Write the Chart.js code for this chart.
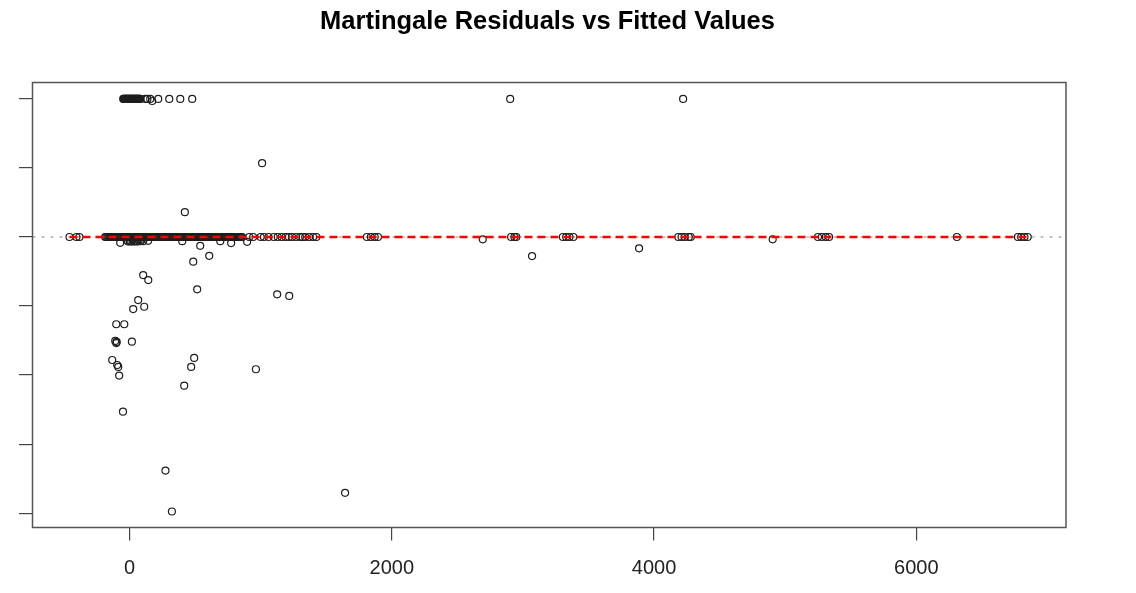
<!DOCTYPE html>
<html>
<head>
<meta charset="utf-8">
<title>Martingale Residuals vs Fitted Values</title>
<script src="https://cdn.jsdelivr.net/npm/chart.js@4/dist/chart.umd.min.js"></script>
<style>
  html, body { margin: 0; padding: 0; background: #ffffff; }
  #wrap { width: 1136px; height: 593px; position: relative; }
</style>
</head>
<body>
<div id="wrap"><canvas id="c" width="1136" height="593"></canvas></div>
<script>
// Fitted values whose martingale residual is exactly 0
const fittedAtZero = [
  -458, -405, -382,
  -186, -177, -168, -160, -151, -142, -133, -124, -116, -107, -98, -89, -80, -72, -63, -54,
  -45, -36, -28, -19, -10, -1, 8, 16, 25, 34, 43, 52, 60, 69, 78, 87, 96, 104, 113, 122,
  131, 140, 148, 157, 166, 175, 184, 192, 201, 210, 219, 228, 236, 245, 254, 263, 272, 280,
  289, 298, 307, 316, 324, 333, 342, 351, 360, 368, 377, 386, 395, 404, 412, 421, 430, 439,
  448, 456, 465, 474, 483, 492, 500, 509, 518, 527, 536, 544, 553, 562, 571, 580, 588, 597,
  606, 615, 624, 632, 641, 650, 659, 668, 676, 685, 694, 703, 712, 720, 729, 738, 747, 756,
  764, 773, 782, 791, 800, 808, 817, 826, 835, 844, 852, 859,
  913, 943, 1000, 1025, 1060, 1100, 1130, 1160, 1190, 1215, 1240, 1270, 1300, 1320,
  1340, 1370, 1400, 1425, 1810, 1840, 1870, 1895,
  2910, 2935, 2950, 3305, 3330, 3355, 3385, 4185, 4210, 4235, 4265, 4280,
  5250, 5280, 5310, 5335, 6310, 6775, 6800, 6825, 6850
];

// Fitted values whose martingale residual is 1 (the maximum)
const fittedAtOne = [
  -48, -44, -39, -35, -31, -26, -22, -18, -13, -9, -5, 0, 4, 8, 13, 17, 21, 26, 30, 34,
  39, 43, 47, 52, 56, 60, 65, 69, 73, 78, 82,
  120, 136, 158, 219, 303, 387, 478, 2903, 4222
];

// Remaining observations: fitted value and residual
const fittedOther = [
  173, 1011, 422,
  -71, -10, 13, 36, 59, 82, 104, 142, 402, 539, 692, 775, 897,
  -20, 2, 24, 47, 70, 93,
  486, 608, 104, 143, 516, 1126, 1218, 66, 28, 112, -101, -40,
  -109, -101, -98, 18, -132, -94, -86, -79, -50,
  493, 470, 417, 964, 274, 323, 1644,
  2694, 3070, 3886, 4905
];
const residOther = [
  0.985, 0.535, 0.180,
  -0.042, -0.033, -0.033, -0.033, -0.033, -0.030, -0.030, -0.028, -0.030, -0.064, -0.030, -0.044, -0.035,
  -0.025, -0.028, -0.022, -0.026, -0.024, -0.020,
  -0.179, -0.136, -0.276, -0.312, -0.379, -0.415, -0.427, -0.457, -0.522, -0.505, -0.632, -0.632,
  -0.753, -0.768, -0.760, -0.758, -0.891, -0.927, -0.941, -1.004, -1.265,
  -0.876, -0.941, -1.077, -0.958, -1.692, -1.988, -1.853,
  -0.017, -0.138, -0.082, -0.017
];

// Smoothed trend through the residuals
const smoothX = [-458, 6850];
const smoothY = [0, 0];

// Axis ranges and tick positions
const X_MIN = -740, X_MAX = 7142;
const Y_MIN = -2.104, Y_MAX = 1.119;
const xTickValues = [0, 2000, 4000, 6000];
const yTickValues = [-2, -1.5, -1, -0.5, 0, 0.5, 1];

const points = [];
fittedAtZero.forEach(x => points.push({ x: x, y: 0 }));
fittedAtOne.forEach(x => points.push({ x: x, y: 1 }));
fittedOther.forEach((x, i) => points.push({ x: x, y: residOther[i] }));

const smoothLine = smoothX.map((x, i) => ({ x: x, y: smoothY[i] }));
const refLine = [{ x: X_MIN, y: 0 }, { x: X_MAX, y: 0 }];

// Frame around the plotting region
const frame = {
  id: 'frame',
  afterDraw(chart) {
    const a = chart.chartArea, ctx = chart.ctx;
    ctx.save();
    ctx.strokeStyle = '#555555';
    ctx.lineWidth = 1.5;
    ctx.strokeRect(a.left, a.top, a.right - a.left, a.bottom - a.top);
    ctx.restore();
  }
};

const FONT = '"Liberation Sans", Arial, sans-serif';

new Chart(document.getElementById('c'), {
  type: 'scatter',
  data: {
    datasets: [
      {
        type: 'line',
        data: refLine,
        borderColor: '#c4c4c4',
        borderWidth: 2,
        borderDash: [3, 6],
        pointRadius: 0,
        fill: false,
        order: 3
      },
      {
        data: points,
        pointStyle: 'circle',
        pointRadius: 3.5,
        pointHoverRadius: 3.5,
        borderColor: '#1e1e1e',
        borderWidth: 1.2,
        backgroundColor: 'rgba(0,0,0,0)',
        order: 2
      },
      {
        type: 'line',
        data: smoothLine,
        borderColor: '#ff0000',
        borderWidth: 2.5,
        borderDash: [8, 5],
        pointRadius: 0,
        fill: false,
        order: 1
      }
    ]
  },
  options: {
    responsive: false,
    animation: false,
    layout: { padding: { left: 29, right: 70, top: 0, bottom: 0 } },
    plugins: {
      legend: { display: false },
      tooltip: { enabled: false },
      title: {
        display: true,
        text: 'Martingale Residuals vs Fitted Values',
        color: '#000000',
        font: { family: FONT, size: 25.5, weight: 'bold' },
        padding: { top: 6.2, bottom: 45.7 }
      }
    },
    scales: {
      x: {
        type: 'linear',
        min: X_MIN,
        max: X_MAX,
        afterBuildTicks(scale) { scale.ticks = xTickValues.map(v => ({ value: v })); },
        ticks: {
          callback: v => String(v),
          color: '#222222',
          padding: 15.5,
          maxRotation: 0,
          autoSkip: false,
          font: { family: FONT, size: 20 }
        },
        grid: { drawOnChartArea: false, drawTicks: true, tickLength: 13, color: '#444444', lineWidth: 1.2 },
        border: { display: false },
        afterFit(scale) { scale.height = 65.5; }
      },
      y: {
        type: 'linear',
        min: Y_MIN,
        max: Y_MAX,
        afterBuildTicks(scale) { scale.ticks = yTickValues.map(v => ({ value: v })); },
        ticks: { display: false },
        grid: { drawOnChartArea: false, drawTicks: true, tickLength: 13.5, color: '#444444', lineWidth: 1.2 },
        border: { display: false },
        afterFit(scale) { scale.width = 3.5; }
      }
    }
  },
  plugins: [frame]
});
</script>
</body>
</html>
